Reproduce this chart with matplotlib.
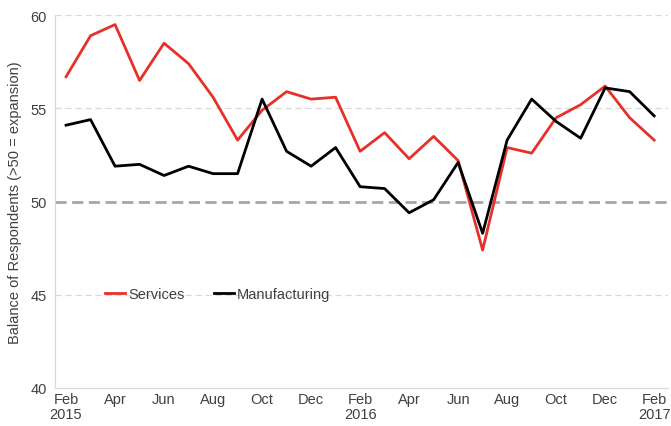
import matplotlib
matplotlib.use("Agg")
import matplotlib.pyplot as plt

plt.rcParams["font.family"] = ["Liberation Sans", "DejaVu Sans"]

# Monthly PMI balance, Feb 2015 .. Feb 2017
months = ["Feb\n2015", "Mar", "Apr", "May", "Jun", "Jul", "Aug", "Sep", "Oct", "Nov", "Dec", "Jan",
          "Feb\n2016", "Mar", "Apr", "May", "Jun", "Jul", "Aug", "Sep", "Oct", "Nov", "Dec", "Jan",
          "Feb\n2017"]
services = [56.7, 58.9, 59.5, 56.5, 58.5, 57.4, 55.6, 53.3, 54.9, 55.9, 55.5, 55.6,
            52.7, 53.7, 52.3, 53.5, 52.2, 47.4, 52.9, 52.6, 54.5, 55.2, 56.2, 54.5, 53.3]
manufacturing = [54.1, 54.4, 51.9, 52.0, 51.4, 51.9, 51.5, 51.5, 55.5, 52.7, 51.9, 52.9,
                 50.8, 50.7, 49.4, 50.1, 52.1, 48.3, 53.3, 55.5, 54.3, 53.4, 56.1, 55.9, 54.6]
y_ticks = [40, 45, 50, 55, 60]

x = list(range(len(months)))

fig, ax = plt.subplots(figsize=(6.71, 4.27), dpi=100)
fig.subplots_adjust(left=0.082, right=0.995, top=0.962, bottom=0.089)

for yv in [45, 55, 60]:
    ax.axhline(yv, color="#d9d9d9", lw=0.9, ls=(0, (5, 3)), zorder=0)
ax.axhline(50, color="#a6a6a6", lw=2.0, ls=(0, (4, 2)), zorder=1)

ax.plot(x, services, color="#e8302a", lw=2.0, label="Services", zorder=3)
ax.plot(x, manufacturing, color="#000000", lw=2.0, label="Manufacturing", zorder=3)

ax.set_ylim(40, 60)
ax.set_yticks(y_ticks)
ax.set_xlim(-0.45, 24.55)
ax.set_xticks(x[::2])
ax.set_xticklabels(months[::2], linespacing=1.05)
ax.tick_params(axis="both", length=0, labelsize=10.5, colors="#404040", pad=6)
ax.tick_params(axis="x", pad=3)

for side in ["top", "right"]:
    ax.spines[side].set_visible(False)
for side in ["left", "bottom"]:
    ax.spines[side].set_color("#d9d9d9")
    ax.spines[side].set_linewidth(0.9)

ax.set_ylabel("Balance of Respondents (>50 = expansion)", fontsize=10.5, color="#404040", labelpad=6)

ax.legend(loc="upper left", bbox_to_anchor=(0.06, 0.305), ncol=2, frameon=False,
          fontsize=10.5, handlelength=1.4, handletextpad=0.2, columnspacing=2.0,
          labelcolor="#404040")

fig.savefig("out.png", dpi=100)
